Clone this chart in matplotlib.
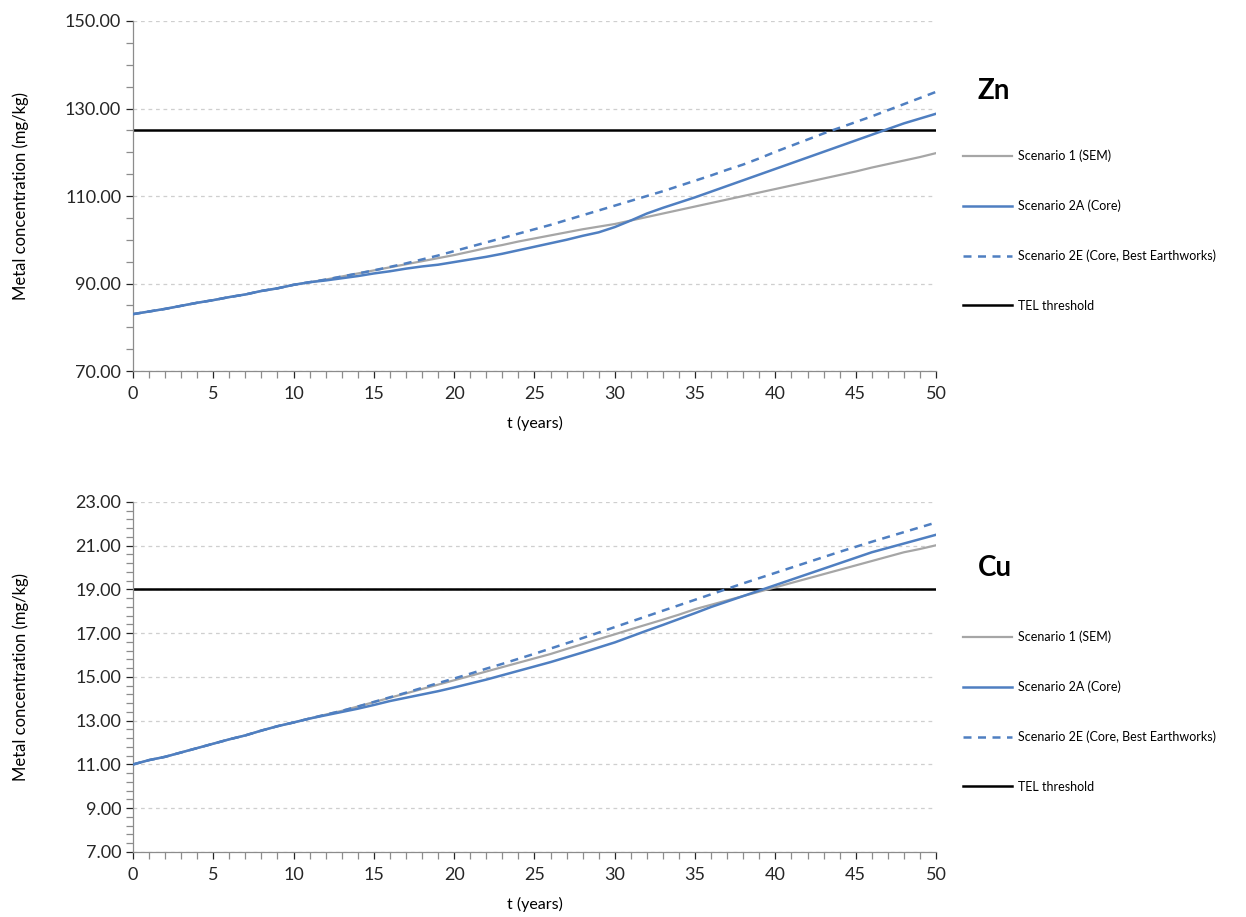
import matplotlib
matplotlib.use('Agg')
import matplotlib.pyplot as plt
import numpy as np
from matplotlib.ticker import MultipleLocator, FormatStrFormatter

plt.rcParams['font.family'] = ['Lato', 'DejaVu Sans']

years = list(range(0, 51))

# Zn (mg/kg)
zn_sem = [83.0, 83.6, 84.2, 84.9, 85.6, 86.2, 86.9, 87.5, 88.3, 88.9,
          89.7, 90.3, 90.9, 91.6, 92.3, 93.0, 93.7, 94.4, 95.1, 95.8,
          96.5, 97.3, 98.1, 98.8, 99.6, 100.3, 101.0, 101.7, 102.4, 103.0,
          103.6, 104.4, 105.2, 106.0, 106.8, 107.6, 108.4, 109.2, 110.0, 110.8,
          111.6, 112.4, 113.2, 114.0, 114.8, 115.6, 116.5, 117.3, 118.1, 118.9,
          119.8]
zn_core = [83.0, 83.6, 84.2, 84.9, 85.6, 86.2, 86.9, 87.5, 88.3, 88.9,
           89.7, 90.3, 90.7, 91.2, 91.7, 92.3, 92.8, 93.4, 93.9, 94.3,
           94.9, 95.5, 96.1, 96.8, 97.6, 98.4, 99.2, 100.0, 100.9, 101.7,
           102.9, 104.4, 106.0, 107.3, 108.5, 109.7, 111.0, 112.3, 113.6, 114.9,
           116.2, 117.5, 118.8, 120.1, 121.4, 122.7, 124.0, 125.3, 126.6, 127.7,
           128.8]
zn_best = [83.0, 83.6, 84.2, 84.9, 85.6, 86.2, 86.9, 87.5, 88.3, 88.9,
           89.7, 90.3, 90.9, 91.6, 92.3, 93.0, 93.8, 94.6, 95.5, 96.4,
           97.4, 98.4, 99.4, 100.4, 101.4, 102.4, 103.4, 104.5, 105.6, 106.7,
           107.8, 108.9, 110.0, 111.1, 112.3, 113.5, 114.7, 116.0, 117.2, 118.6,
           120.1, 121.5, 122.9, 124.3, 125.6, 126.9, 128.2, 129.6, 131.0, 132.4,
           133.8]
zn_tel = 125.0

# Cu (mg/kg)
cu_sem = [11.0, 11.2, 11.35, 11.55, 11.75, 11.95, 12.15, 12.33, 12.55, 12.75,
          12.92, 13.1, 13.28, 13.45, 13.65, 13.85, 14.05, 14.25, 14.45, 14.65,
          14.85, 15.05, 15.25, 15.45, 15.65, 15.85, 16.05, 16.28, 16.5, 16.73,
          16.95, 17.18, 17.4, 17.62, 17.85, 18.1, 18.3, 18.5, 18.7, 18.9,
          19.1, 19.3, 19.5, 19.7, 19.9, 20.1, 20.3, 20.5, 20.7, 20.85,
          21.02]
cu_core = [11.0, 11.2, 11.35, 11.55, 11.75, 11.95, 12.15, 12.33, 12.55, 12.75,
           12.92, 13.1, 13.25, 13.4, 13.55, 13.72, 13.9, 14.05, 14.2, 14.35,
           14.52, 14.7, 14.88, 15.08, 15.28, 15.48, 15.68, 15.9, 16.12, 16.35,
           16.58, 16.85, 17.12, 17.38, 17.65, 17.92, 18.2, 18.45, 18.7, 18.95,
           19.2, 19.45, 19.7, 19.95, 20.2, 20.45, 20.7, 20.9, 21.1, 21.3,
           21.5]
cu_best = [11.0, 11.2, 11.35, 11.55, 11.75, 11.95, 12.15, 12.33, 12.55, 12.75,
           12.92, 13.1, 13.28, 13.45, 13.65, 13.86, 14.07, 14.28, 14.5, 14.72,
           14.93, 15.15, 15.38, 15.6, 15.83, 16.06, 16.3, 16.54, 16.78, 17.03,
           17.28, 17.53, 17.78, 18.03, 18.28, 18.53, 18.78, 19.03, 19.28, 19.52,
           19.76, 20.0, 20.24, 20.48, 20.72, 20.95, 21.18, 21.4, 21.62, 21.84,
           22.06]
cu_tel = 19.0

labels = ['Scenario 1 (SEM)', 'Scenario 2A (Core)',
          'Scenario 2E (Core, Best Earthworks)', 'TEL threshold']

GREY = '#A6A6A6'
BLUE = '#4F7FC1'
AXC = '#8C8C8C'

fig = plt.figure(figsize=(12.46, 9.17), dpi=100)
ax1 = fig.add_axes([0.1067, 0.5954, 0.6445, 0.3817])
ax2 = fig.add_axes([0.1067, 0.0709, 0.6445, 0.3817])


def draw(ax, sem, core, best, tel, ylim, major, minor, name, name_y):
    ax.plot(years, sem, color=GREY, lw=1.6, label=labels[0], zorder=3)
    ax.plot(years, core, color=BLUE, lw=1.8, label=labels[1], zorder=4)
    ax.plot(years, best, color=BLUE, lw=1.8, dashes=(3.2, 2.6), label=labels[2], zorder=4)
    ax.plot([0, 50], [tel, tel], color='black', lw=1.8, label=labels[3], zorder=2)
    ax.set_xlim(0, 50)
    ax.set_ylim(*ylim)
    ax.xaxis.set_major_locator(MultipleLocator(5))
    ax.xaxis.set_minor_locator(MultipleLocator(1))
    ax.set_yticks(np.arange(ylim[0], ylim[1] + major / 2, major))
    ax.set_yticks(np.arange(ylim[0], ylim[1] + minor / 2, minor), minor=True)
    ax.yaxis.set_major_formatter(FormatStrFormatter('%.2f'))
    ax.grid(axis='y', which='major', color='#CFCFCF', lw=0.9, ls=(0, (3, 3)))
    ax.set_axisbelow(True)
    for s in ['top', 'right']:
        ax.spines[s].set_visible(False)
    for s in ['left', 'bottom']:
        ax.spines[s].set_color(AXC)
        ax.spines[s].set_linewidth(0.9)
    ax.tick_params(which='both', direction='out', color=AXC, length=5, width=0.9)
    ax.tick_params(which='major', labelsize=13, colors='#262626')
    ax.tick_params(axis='x', which='major', pad=6)
    ax.set_xlabel('t (years)', fontsize=11.5, labelpad=10)
    ax.set_ylabel('Metal concentration (mg/kg)', fontsize=12)
    ax.yaxis.set_label_coords(-0.13, 0.5)
    ax.text(1.052, name_y, name, transform=ax.transAxes, fontsize=20,
            fontweight='bold', va='center', ha='left')
    ax.legend(loc='upper left', bbox_to_anchor=(1.02, 0.665), frameon=False,
              fontsize=9, handlelength=3.9, handletextpad=0.5, labelspacing=3.0)


draw(ax1, zn_sem, zn_core, zn_best, zn_tel, (70, 150), 20, 5, 'Zn', 0.80)
draw(ax2, cu_sem, cu_core, cu_best, cu_tel, (7, 23), 2, 0.4, 'Cu', 0.81)

fig.savefig('out.png', dpi=100)
